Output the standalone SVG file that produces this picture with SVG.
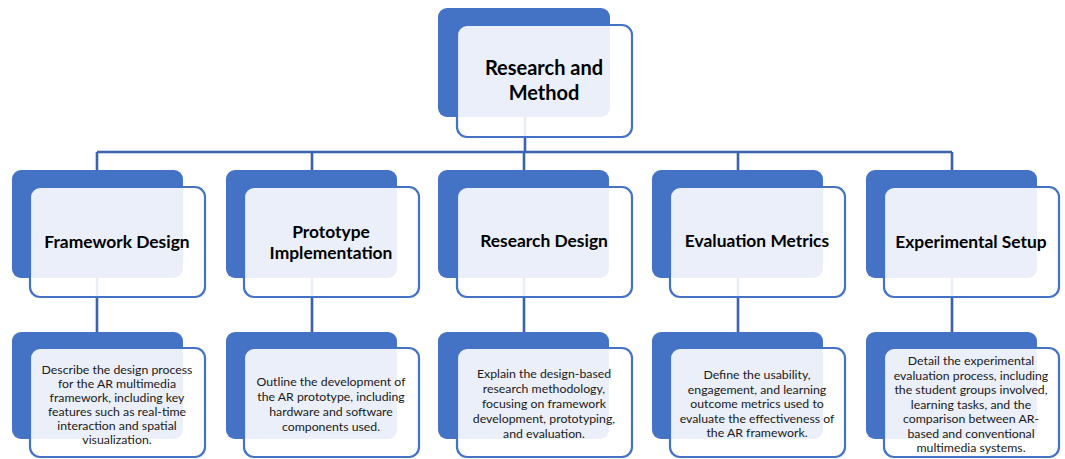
<svg xmlns="http://www.w3.org/2000/svg" width="1065" height="459" viewBox="0 0 1065 459">
<defs>
<style>
.back{fill:#4472C4;}
.front{fill:#FFFFFF;fill-opacity:0.89;stroke:#4472C4;stroke-width:2.2;}
.conn{fill:none;stroke:#3A62AD;stroke-width:2.6;}
.title{font-family:Lato,"Liberation Sans",sans-serif;font-weight:bold;font-size:17.4px;fill:#000;text-anchor:middle;}
.top{font-family:Lato,"Liberation Sans",sans-serif;font-weight:bold;font-size:20px;fill:#000;text-anchor:middle;}
.body{font-family:Lato,"Liberation Sans",sans-serif;font-size:12.3px;fill:#1a1a1a;text-anchor:middle;}
</style>
</defs>
<rect width="1065" height="459" fill="#FFFFFF"/>
<g id="connectors">
<path class="conn" d="M525 117 V152 M97 152 H952 M97 152 V170 M312 152 V170 M524 152 V170 M738 152 V170 M952 152 V170"/>
<path class="conn" d="M97 278 V332 M312 278 V332 M524 278 V332 M738 278 V332 M952 278 V332"/>
</g>
<g id="node-root">
<rect class="back" x="438" y="8" width="172" height="109" rx="9"/>
<rect class="front" x="457" y="25" width="175" height="112" rx="10"/>
<text class="top" x="544" y="75">Research and</text>
<text class="top" x="544" y="100">Method</text>
</g>
<g id="node-framework">
<rect class="back" x="12" y="170" width="171" height="108" rx="9"/>
<rect class="front" x="30" y="187" width="175" height="110" rx="10"/>
<text class="title" x="117" y="248">Framework Design</text>
</g>
<g id="node-prototype">
<rect class="back" x="226" y="170" width="171" height="108" rx="9"/>
<rect class="front" x="244" y="187" width="175" height="110" rx="10"/>
<text class="title" x="331" y="238">Prototype</text>
<text class="title" x="331" y="259">Implementation</text>
</g>
<g id="node-research">
<rect class="back" x="438" y="170" width="171" height="108" rx="9"/>
<rect class="front" x="457" y="187" width="175" height="110" rx="10"/>
<text class="title" x="544" y="247">Research Design</text>
</g>
<g id="node-evaluation">
<rect class="back" x="652" y="170" width="171" height="108" rx="9"/>
<rect class="front" x="670" y="187" width="175" height="110" rx="10"/>
<text class="title" x="757" y="247">Evaluation Metrics</text>
</g>
<g id="node-experimental">
<rect class="back" x="866" y="170" width="171" height="108" rx="9"/>
<rect class="front" x="884" y="187" width="175" height="110" rx="10"/>
<text class="title" x="971" y="248">Experimental Setup</text>
</g>
<g id="desc-framework">
<rect class="back" x="12" y="332" width="171" height="107" rx="9"/>
<rect class="front" x="30" y="348" width="175" height="109" rx="10"/>
<text class="body" x="117" y="374">Describe the design process</text>
<text class="body" x="117" y="388">for the AR multimedia</text>
<text class="body" x="117" y="402">framework, including key</text>
<text class="body" x="117" y="416">features such as real-time</text>
<text class="body" x="117" y="430">interaction and spatial</text>
<text class="body" x="117" y="444">visualization.</text>
</g>
<g id="desc-prototype">
<rect class="back" x="226" y="332" width="171" height="107" rx="9"/>
<rect class="front" x="244" y="348" width="175" height="109" rx="10"/>
<text class="body" x="331" y="386">Outline the development of</text>
<text class="body" x="331" y="401">the AR prototype, including</text>
<text class="body" x="331" y="416">hardware and software</text>
<text class="body" x="331" y="431">components used.</text>
</g>
<g id="desc-research">
<rect class="back" x="438" y="332" width="171" height="107" rx="9"/>
<rect class="front" x="457" y="348" width="175" height="109" rx="10"/>
<text class="body" x="544" y="378">Explain the design-based</text>
<text class="body" x="544" y="393">research methodology,</text>
<text class="body" x="544" y="408">focusing on framework</text>
<text class="body" x="544" y="423">development, prototyping,</text>
<text class="body" x="544" y="438">and evaluation.</text>
</g>
<g id="desc-evaluation">
<rect class="back" x="652" y="332" width="171" height="107" rx="9"/>
<rect class="front" x="670" y="348" width="175" height="109" rx="10"/>
<text class="body" x="757" y="379">Define the usability,</text>
<text class="body" x="757" y="394">engagement, and learning</text>
<text class="body" x="757" y="408">outcome metrics used to</text>
<text class="body" x="757" y="423">evaluate the effectiveness of</text>
<text class="body" x="757" y="437">the AR framework.</text>
</g>
<g id="desc-experimental">
<rect class="back" x="866" y="332" width="171" height="107" rx="9"/>
<rect class="front" x="884" y="348" width="175" height="109" rx="10"/>
<text class="body" x="971" y="365">Detail the experimental</text>
<text class="body" x="971" y="379.5">evaluation process, including</text>
<text class="body" x="971" y="394">the student groups involved,</text>
<text class="body" x="971" y="408.5">learning tasks, and the</text>
<text class="body" x="971" y="423">comparison between AR-</text>
<text class="body" x="971" y="437.5">based and conventional</text>
<text class="body" x="971" y="452">multimedia systems.</text>
</g>
</svg>
